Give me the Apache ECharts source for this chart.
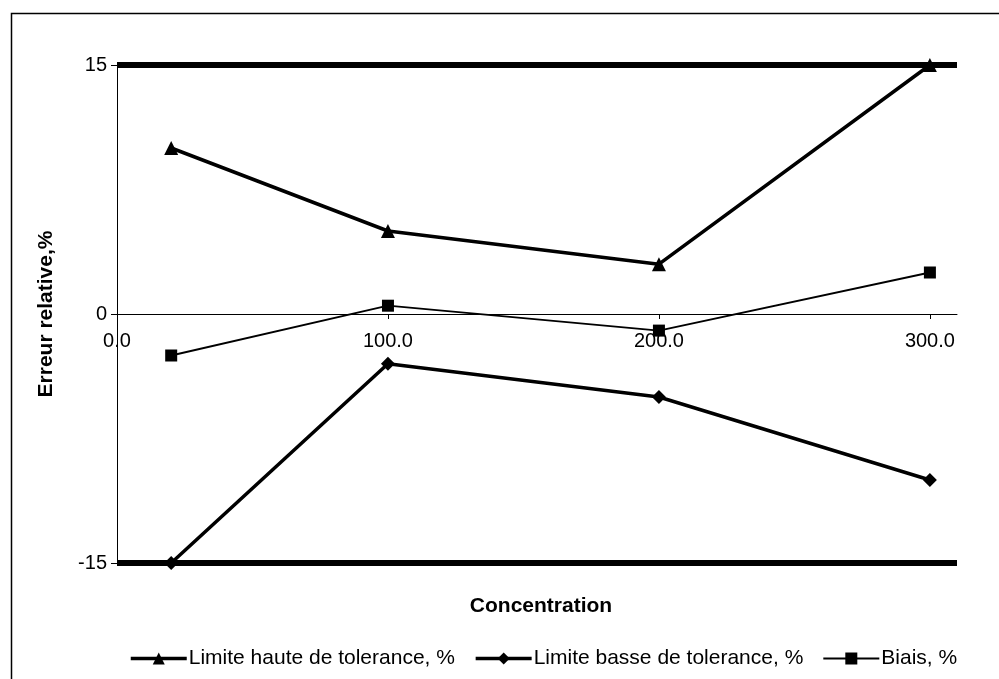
<!DOCTYPE html>
<html>
<head>
<meta charset="utf-8">
<script src="https://cdn.jsdelivr.net/npm/echarts@6/dist/echarts.min.js"></script>
<style>html,body{margin:0;padding:0;background:#fff}#c{width:999px;height:679px}</style>
</head>
<body>
<div id="c"></div>
<script>
var concentrations = [20, 100, 200, 300];
var limiteHaute = [10.0, 5.0, 3.0, 15.0];
var limiteBasse = [-15.0, -3.0, -5.0, -10.0];
var biais = [-2.5, 0.5, -1.0, 2.5];
var toleranceBounds = [15, -15];
var xTicks = [0, 100, 200, 300];
var yTicks = [-15, 0, 15];
var seriesNames = ['Limite haute de tolerance, %', 'Limite basse de tolerance, %', 'Biais, %'];

function pairs(ys) { return concentrations.map(function (x, i) { return [x, ys[i]]; }); }

var font = 'Arial, "Liberation Sans", sans-serif';
var gridTop = 65, gridBottom = 116, H = 679;
var zeroOffset = -(H - gridTop - gridBottom) / 2;
var lineWidths = [3.5, 3.5, 1.8];
var chart = echarts.init(document.getElementById('c'), null, { renderer: 'canvas' });
chart.setOption({
  animation: false,
  backgroundColor: '#fff',
  graphic: [{
    type: 'rect', left: 9, top: 11, shape: { width: 1000, height: 700 },
    style: { fill: 'none', stroke: '#000', lineWidth: 1.5 }, silent: true
  }],
  title: {
    text: 'Concentration', left: 536, top: 591, textAlign: 'center',
    textStyle: { fontFamily: font, fontSize: 21, fontWeight: 'bold', color: '#000' }
  },
  grid: { left: 117, right: 42, top: gridTop, bottom: gridBottom, containLabel: false },
  legend: {
    bottom: 5, left: 124, itemWidth: 56, itemHeight: 15, itemGap: 19,
    data: seriesNames.map(function (n, i) {
      return { name: n, lineStyle: { width: lineWidths[i] === 1.8 ? 2 : 3.5, color: '#000' } };
    }),
    textStyle: { fontFamily: font, fontSize: 21, color: '#000', padding: [0, 0, 0, -3] }
  },
  xAxis: {
    type: 'value', min: 0, max: 310, interval: 100,
    position: 'bottom', offset: zeroOffset,
    axisLine: { onZero: false, lineStyle: { color: '#000', width: 1 } },
    axisTick: { show: true, inside: false, length: 5, lineStyle: { color: '#000' } },
    axisLabel: {
      showMaxLabel: false, margin: 17, fontFamily: font, fontSize: 20, color: '#000',
      formatter: function (v) { return xTicks.indexOf(v) >= 0 ? v.toFixed(1) : ''; }
    },
    splitLine: { show: false }
  },
  yAxis: {
    type: 'value', min: -15, max: 15, interval: 15,
    name: 'Erreur relative,%', nameLocation: 'middle', nameGap: 60, nameRotate: 90,
    nameTextStyle: { fontFamily: font, fontSize: 21, fontWeight: 'bold', color: '#000' },
    axisLine: { show: true, onZero: false, lineStyle: { color: '#000', width: 1 } },
    axisTick: { show: true, length: 6, lineStyle: { color: '#000' } },
    axisLabel: {
      margin: 10, fontFamily: font, fontSize: 20, color: '#000',
      formatter: function (v) { return yTicks.indexOf(v) >= 0 ? String(v) : ''; }
    },
    splitLine: { show: false }
  },
  series: [
    {
      name: seriesNames[0], type: 'line', data: pairs(limiteHaute),
      symbol: 'triangle', symbolSize: 14,
      lineStyle: { color: '#000', width: lineWidths[0] }, itemStyle: { color: '#000' },
      z: 3,
      markLine: {
        silent: true, symbol: 'none', label: { show: false },
        lineStyle: { color: '#000', width: 6, type: 'solid' },
        data: toleranceBounds.map(function (b) { return { yAxis: b }; })
      }
    },
    {
      name: seriesNames[1], type: 'line', data: pairs(limiteBasse),
      symbol: 'diamond', symbolSize: 14,
      lineStyle: { color: '#000', width: lineWidths[1] }, itemStyle: { color: '#000' }, z: 3
    },
    {
      name: seriesNames[2], type: 'line', data: pairs(biais),
      symbol: 'rect', symbolSize: 12,
      lineStyle: { color: '#000', width: lineWidths[2] }, itemStyle: { color: '#000' }, z: 3
    }
  ]
});
</script>
</body>
</html>
